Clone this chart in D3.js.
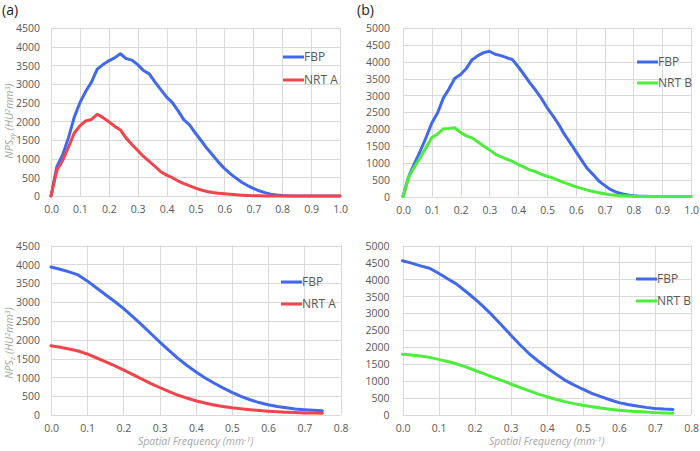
<!DOCTYPE html>
<html><head><meta charset="utf-8">
<script src="https://cdnjs.cloudflare.com/ajax/libs/d3/7.8.5/d3.min.js"></script>
<style>
body{margin:0;background:#fff;}
svg{display:block;}
text{font-family:"Open Sans","Liberation Sans",sans-serif;}
</style></head>
<body>
<svg id="c" width="700" height="451"></svg>
<script>
// ---------- DATA ----------
const freqTop = d3.range(0, 51).map(i => +(i * 0.02).toFixed(2));   // 0.00 .. 1.00
const freqBottom = d3.range(0, 31).map(i => +(i * 0.025).toFixed(3)); // 0.000 .. 0.750

const fbpA_xy = [0,780,1100,1550,2100,2500,2800,3050,3400,3520,3620,3700,3810,3680,3640,3520,3360,3270,3050,2850,2650,2500,2280,2040,1900,1680,1480,1270,1090,900,740,600,480,370,280,205,140,90,50,30,15,8,3,0,0,0,0,0,0,0,0];
const nrtA_xy = [0,680,950,1300,1680,1880,2010,2050,2190,2100,1990,1870,1770,1550,1380,1220,1060,930,790,650,560,490,400,330,270,210,160,120,95,75,60,45,32,22,15,10,6,3,1,0,0,0,0,0,0,0,0,0,0,0,0];
const fbpB_xy = [0,600,980,1350,1750,2180,2480,2920,3200,3510,3620,3800,4060,4180,4270,4310,4220,4180,4120,4060,3850,3620,3380,3160,2920,2640,2400,2150,1850,1600,1340,1080,830,650,460,330,210,130,80,45,25,10,5,0,0,0,0,0,0,0,0];
const nrtB_xy = [0,580,880,1160,1450,1750,1850,2010,2020,2040,1900,1800,1740,1620,1500,1390,1260,1180,1110,1040,950,870,790,740,660,600,550,480,410,350,290,240,190,150,110,80,55,35,25,15,8,3,0,0,0,0,0,0,0,0,0];

const fbpA_z = [3930,3870,3800,3720,3560,3380,3200,3020,2830,2620,2400,2170,1940,1720,1510,1320,1150,990,850,720,600,495,405,330,270,225,190,160,140,125,115];
const nrtA_z = [1840,1800,1750,1700,1620,1520,1420,1310,1200,1080,960,840,730,625,530,450,380,320,265,225,190,165,140,120,100,85,75,65,55,50,45];
const fbpB_z = [4550,4480,4400,4330,4180,4020,3860,3650,3430,3190,2930,2650,2360,2080,1820,1600,1400,1210,1030,890,760,640,540,450,365,310,265,225,195,175,165];
const nrtB_z = [1790,1770,1740,1700,1640,1580,1510,1420,1320,1220,1120,1020,915,815,720,625,540,465,395,335,285,245,205,170,140,115,100,85,70,58,50];

const xTicksTop = [0,0.1,0.2,0.3,0.4,0.5,0.6,0.7,0.8,0.9,1.0];
const xTicksBottom = [0,0.1,0.2,0.3,0.4,0.5,0.6,0.7,0.8];
const yTicksA = d3.range(0, 4501, 500);
const yTicksB = d3.range(0, 5001, 500);

const seriesNames = { fbp: "FBP", nrtA: "NRT A", nrtB: "NRT B" };
const colors = { fbp: "#4169f0", nrtA: "#f2444a", nrtB: "#4ded3c" };

// ---------- DRAW ----------
const svg = d3.select("#c");

function panel(cfg) {
  const x = d3.scaleLinear().domain(cfg.xDomain).range([cfg.left, cfg.right]);
  const y = d3.scaleLinear().domain(cfg.yDomain).range([cfg.bottom, cfg.top]);
  const g = svg.append("g");

  // gridlines
  g.selectAll(".hg").data(cfg.yTicks).join("line")
    .attr("x1", cfg.left).attr("x2", cfg.right)
    .attr("y1", d => Math.round(y(d)) + 0.5).attr("y2", d => Math.round(y(d)) + 0.5)
    .attr("stroke", "#d9d9d9").attr("stroke-width", 1);
  g.selectAll(".vg").data(cfg.xTicks).join("line")
    .attr("x1", d => Math.round(x(d)) + 0.5).attr("x2", d => Math.round(x(d)) + 0.5)
    .attr("y1", cfg.top).attr("y2", cfg.bottom)
    .attr("stroke", "#d9d9d9").attr("stroke-width", 1);

  // axes labels via d3 axes
  const yAxis = d3.axisLeft(y).tickValues(cfg.yTicks).tickSize(0).tickPadding(cfg.yPad).tickFormat(d3.format("d"));
  const ya = g.append("g").attr("transform", `translate(${cfg.left},0)`).call(yAxis);
  ya.select(".domain").remove();
  ya.selectAll("text").attr("fill", "#595959").attr("font-size", "10.5px").attr("dy", "0.35em");

  const xAxis = d3.axisBottom(x).tickValues(cfg.xTicks).tickSize(0).tickPadding(10).tickFormat(d3.format(".1f"));
  const xa = g.append("g").attr("transform", `translate(0,${cfg.bottom})`).call(xAxis);
  xa.select(".domain").remove();
  xa.selectAll("text").attr("fill", "#595959").attr("font-size", "10.5px");

  // lines
  const line = d3.line().x(d => x(d[0])).y(d => y(d[1]));
  cfg.series.forEach(s => {
    const pts = cfg.freq.map((f, i) => [f, s.values[i]]);
    g.append("path").datum(pts).attr("d", line)
      .attr("fill", "none").attr("stroke", colors[s.key]).attr("stroke-width", 3)
      .attr("stroke-linejoin", "round").attr("stroke-linecap", "round");
  });

  // legend
  cfg.series.forEach((s, i) => {
    const ly = cfg.legY[i];
    g.append("line").attr("x1", cfg.legX).attr("x2", cfg.legX + 21)
      .attr("y1", ly).attr("y2", ly).attr("stroke", colors[s.key]).attr("stroke-width", 3);
    g.append("text").attr("x", cfg.legX + 21).attr("y", ly).attr("dy", "0.36em")
      .attr("fill", "#595959").attr("font-size", "12px").text(seriesNames[s.key]);
  });

  // titles
  if (cfg.yTitle) {
    const t = g.append("text")
      .attr("transform", `translate(${cfg.yTitleX},${cfg.yTitleY}) rotate(-90)`)
      .attr("text-anchor", "middle").attr("fill", "#a6a6a6")
      .attr("font-size", "10.5px").attr("font-style", "italic");
    t.append("tspan").text("NPS");
    t.append("tspan").attr("font-size", "7.5px").attr("dy", "2").text(cfg.yTitle);
    t.append("tspan").attr("dy", "-2").text(" (HU");
    t.append("tspan").attr("font-size", "7.5px").attr("dy", "-3").text("2");
    t.append("tspan").attr("dy", "3").text("mm");
    t.append("tspan").attr("font-size", "7.5px").attr("dy", "-3").text("3");
    t.append("tspan").attr("dy", "3").text(")");
  }
  if (cfg.xTitle) {
    const t = g.append("text").attr("x", (cfg.left + cfg.right) / 2).attr("y", cfg.bottom + 30)
      .attr("text-anchor", "middle").attr("fill", "#a6a6a6")
      .attr("font-size", "10.5px").attr("font-style", "italic");
    t.append("tspan").text("Spatial Frequency (mm");
    t.append("tspan").attr("font-size", "7.5px").attr("dy", "-3").text("-1");
    t.append("tspan").attr("dy", "3").text(")");
  }
}

panel({ left: 51, right: 340, top: 28, bottom: 196, xDomain: [0, 1], yDomain: [0, 4500],
  xTicks: xTicksTop, yTicks: yTicksA, yPad: 11, freq: freqTop,
  series: [{ key: "fbp", values: fbpA_xy }, { key: "nrtA", values: nrtA_xy }],
  legX: 283, legY: [57, 80], yTitle: "xy", yTitleX: 12.5, yTitleY: 121 });

panel({ left: 403, right: 691, top: 28, bottom: 196.5, xDomain: [0, 1], yDomain: [0, 5000],
  xTicks: xTicksTop, yTicks: yTicksB, yPad: 13, freq: freqTop,
  series: [{ key: "fbp", values: fbpB_xy }, { key: "nrtB", values: nrtB_xy }],
  legX: 637, legY: [62, 83] });

panel({ left: 51, right: 340.5, top: 245.5, bottom: 415, xDomain: [0, 0.8], yDomain: [0, 4500],
  xTicks: xTicksBottom, yTicks: yTicksA, yPad: 11, freq: freqBottom,
  series: [{ key: "fbp", values: fbpA_z }, { key: "nrtA", values: nrtA_z }],
  legX: 281, legY: [282, 304], yTitle: "z", yTitleX: 12.5, yTitleY: 343, xTitle: true });

panel({ left: 402.5, right: 691, top: 245.5, bottom: 415, xDomain: [0, 0.8], yDomain: [0, 5000],
  xTicks: xTicksBottom, yTicks: yTicksB, yPad: 13, freq: freqBottom,
  series: [{ key: "fbp", values: fbpB_z }, { key: "nrtB", values: nrtB_z }],
  legX: 636, legY: [279, 301], xTitle: true });

svg.append("text").attr("x", 2).attr("y", 15).attr("font-size", "14px").attr("fill", "#222").text("(a)");
svg.append("text").attr("x", 357).attr("y", 15).attr("font-size", "14px").attr("fill", "#222").text("(b)");
</script>
</body></html>
